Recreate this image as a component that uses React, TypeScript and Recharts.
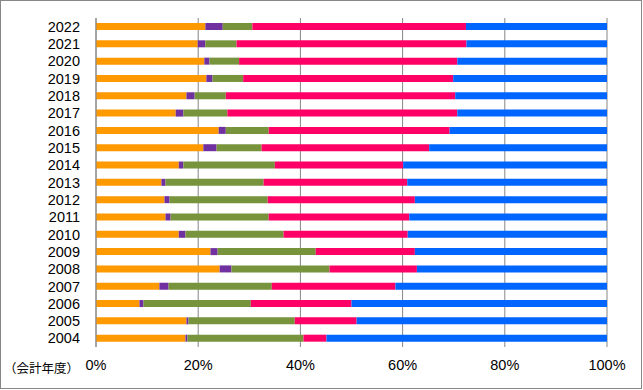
import React from "react";
import { BarChart, Bar, XAxis, YAxis, CartesianGrid } from "recharts";

const years = [
  "2004", "2005", "2006", "2007", "2008", "2009", "2010", "2011", "2012", "2013",
  "2014", "2015", "2016", "2017", "2018", "2019", "2020", "2021", "2022",
];
const orange = [17.5, 17.7, 8.5, 12.4, 24.2, 22.4, 16.2, 13.6, 13.4, 12.8, 16.2, 21.0, 24.0, 15.6, 17.7, 21.6, 21.2, 19.9, 21.4];
const purple = [0.4, 0.4, 0.8, 1.8, 2.3, 1.4, 1.3, 1.0, 1.0, 0.8, 0.9, 2.6, 1.4, 1.5, 1.6, 1.2, 1.0, 1.5, 3.4];
const green = [22.7, 20.8, 21.0, 20.2, 19.2, 19.2, 19.2, 19.2, 19.2, 19.2, 17.9, 8.8, 8.4, 8.6, 6.1, 6.0, 5.8, 6.1, 5.8];
const pink = [4.5, 12.1, 19.7, 24.2, 17.1, 19.4, 24.3, 27.5, 28.8, 28.1, 25.1, 32.8, 35.4, 45.0, 44.9, 41.1, 42.7, 45.0, 41.8];
const blue = [54.9, 49.0, 50.0, 41.4, 37.2, 37.6, 39.0, 38.7, 37.6, 39.1, 39.9, 34.8, 30.8, 29.3, 29.7, 30.1, 29.3, 27.5, 27.6];
const xTicks = [0, 0.2, 0.4, 0.6, 0.8, 1];

const data = years.map((year, i) => ({
  year,
  orange: orange[i],
  purple: purple[i],
  green: green[i],
  pink: pink[i],
  blue: blue[i],
}));

const font = "'Liberation Sans', Arial, sans-serif";

export default function App() {
  return (
    <div
      style={{
        position: "absolute",
        left: 0,
        top: 0,
        width: 643,
        height: 390,
        background: "#fff",
      }}
    >
      <div
        style={{
          position: "absolute",
          left: 0,
          top: 0,
          width: 640,
          height: 387,
          border: "1px solid #878787",
        }}
      />
      <BarChart
        width={643}
        height={390}
        data={data}
        layout="vertical"
        stackOffset="expand"
        barSize={7}
        margin={{ top: 18, right: 36, bottom: 13, left: 0 }}
      >
        <CartesianGrid horizontal={false} stroke="#868686" strokeWidth={1} />
        <XAxis
          type="number"
          domain={[0, 1]}
          ticks={xTicks}
          tickFormatter={(v: number) => `${Math.round(v * 100)}%`}
          axisLine={false}
          tickLine={false}
          tickMargin={7}
          height={30}
          tick={{ fill: "#000", fontSize: 14.5, fontFamily: font }}
          interval={0}
        />
        <YAxis
          type="category"
          dataKey="year"
          reversed
          width={96}
          axisLine={{ stroke: "#868686" }}
          tickLine={false}
          tickMargin={10}
          tick={{ fill: "#000", fontSize: 14.5, fontFamily: font }}
          interval={0}
        />
        <Bar dataKey="orange" stackId="a" fill="#FF9900" isAnimationActive={false} />
        <Bar dataKey="purple" stackId="a" fill="#7030A0" isAnimationActive={false} />
        <Bar dataKey="green" stackId="a" fill="#77933C" isAnimationActive={false} />
        <Bar dataKey="pink" stackId="a" fill="#FF0066" isAnimationActive={false} />
        <Bar dataKey="blue" stackId="a" fill="#0066FF" isAnimationActive={false} />
      </BarChart>
      <div
        style={{
          position: "absolute",
          left: 4,
          top: 360,
          fontSize: 12.5,
          fontFamily: "'Noto Sans CJK JP', sans-serif",
          color: "#000",
          whiteSpace: "nowrap",
          lineHeight: "16px",
        }}
      >
        （会計年度）
      </div>
    </div>
  );
}
